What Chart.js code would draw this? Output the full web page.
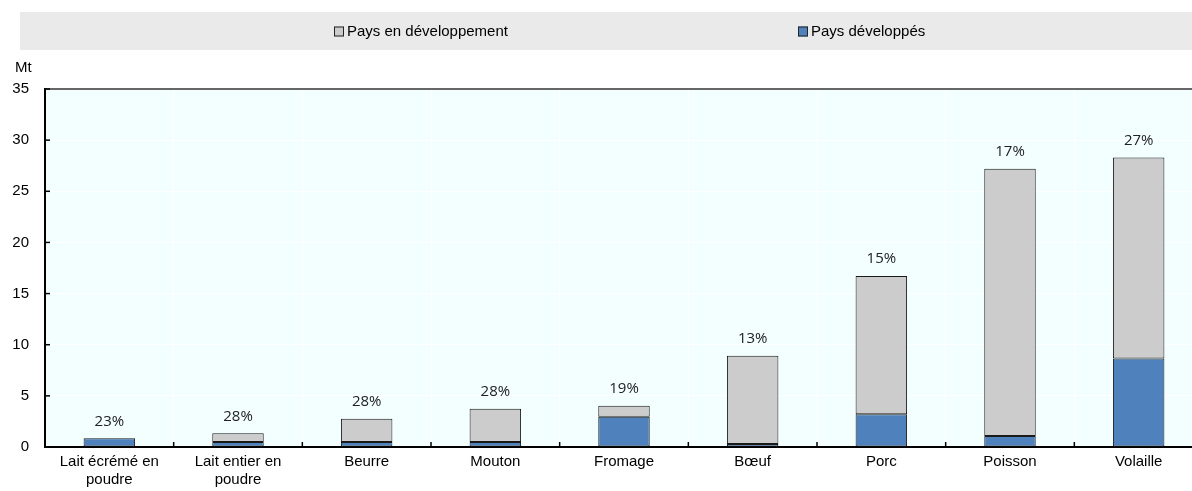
<!DOCTYPE html>
<html>
<head>
<meta charset="utf-8">
<script src="https://cdn.jsdelivr.net/npm/chart.js@4/dist/chart.umd.min.js"></script>
<style>
  html, body { margin: 0; padding: 0; background: #fff; overflow: hidden; }
  #wrap { width: 1205px; height: 491px; }
</style>
</head>
<body>
<div id="wrap"><canvas id="chart" width="1205" height="491"></canvas></div>
<script>
/* ===============================
   DATA
================================ */
const categories = [
  ["Lait écrémé en", "poudre"],
  ["Lait entier en", "poudre"],
  "Beurre",
  "Mouton",
  "Fromage",
  "Bœuf",
  "Porc",
  "Poisson",
  "Volaille"
];

// Mt
const developed = [0.85, 0.49, 0.49, 0.49, 2.96, 0.29, 3.19, 1.07, 8.66];
const developing = [0.0, 0.85, 2.27, 3.25, 1.07, 8.63, 13.54, 26.13, 19.64];

// share labels shown above each bar
const shareLabels = ["23%", "28%", "28%", "28%", "19%", "13%", "15%", "17%", "27%"];

const yTicks = [0, 5, 10, 15, 20, 25, 30, 35];

const FONT = "'Liberation Sans', Arial, sans-serif";

/* -------------------------------
   Plot background + legend band
-------------------------------- */
const backdrop = {
  id: "backdrop",
  beforeDraw(chart) {
    const { ctx, chartArea: a } = chart;
    ctx.save();
    // legend band
    ctx.fillStyle = "#EAEAEA";
    ctx.fillRect(20, 12, chart.width - 20, 38);
    // plot area
    ctx.fillStyle = "#F3FFFF";
    ctx.fillRect(a.left, a.top, a.right - a.left, a.bottom - a.top);
    ctx.restore();
  },
  afterDraw(chart) {
    const { ctx, chartArea: a } = chart;
    const x = chart.scales.x;
    const y = chart.scales.y;
    ctx.save();

    // top border of plot
    ctx.strokeStyle = "#333";
    ctx.lineWidth = 1.5;
    ctx.beginPath();
    ctx.moveTo(a.left, a.top);
    ctx.lineTo(a.right, a.top);
    ctx.stroke();

    // inward tick marks
    ctx.strokeStyle = "#000";
    ctx.lineWidth = 1.5;
    yTicks.forEach(v => {
      const py = y.getPixelForValue(v);
      ctx.beginPath();
      ctx.moveTo(a.left, py);
      ctx.lineTo(a.left + 5, py);
      ctx.stroke();
    });
    for (let i = 0; i < categories.length - 1; i++) {
      const px = (x.getPixelForValue(i) + x.getPixelForValue(i + 1)) / 2;
      ctx.beginPath();
      ctx.moveTo(px, a.bottom);
      ctx.lineTo(px, a.bottom - 5);
      ctx.stroke();
    }

    // unit
    ctx.fillStyle = "#000";
    ctx.font = "15px " + FONT;
    ctx.textAlign = "left";
    ctx.textBaseline = "middle";
    ctx.fillText("Mt", 15, 68);

    // share labels above bars
    ctx.font = "15px 'Open Sans', sans-serif";
    ctx.fillStyle = "#222";
    ctx.textAlign = "center";
    categories.forEach((c, i) => {
      const total = developed[i] + developing[i];
      const px = x.getPixelForValue(i);
      const py = y.getPixelForValue(total);
      ctx.fillText(shareLabels[i], px, py - 17);
    });

    // legend (developing first, as in the source)
    const items = [chart.data.datasets[1], chart.data.datasets[0]];
    const starts = [334, 798];
    ctx.font = "15px " + FONT;
    ctx.textAlign = "left";
    items.forEach((ds, k) => {
      const bx = starts[k];
      ctx.fillStyle = ds.backgroundColor;
      ctx.fillRect(bx, 26.5, 10, 10);
      ctx.strokeStyle = "#222";
      ctx.lineWidth = 1;
      ctx.strokeRect(bx + 0.5, 27, 9, 9);
      ctx.fillStyle = "#000";
      ctx.fillText(ds.label, bx + 13, 32);
    });

    ctx.restore();
  }
};

/* -------------------------------
   Chart
-------------------------------- */
new Chart(document.getElementById("chart"), {
  type: "bar",
  data: {
    labels: categories,
    datasets: [
      {
        label: "Pays développés",
        data: developed,
        backgroundColor: "#4F81BD",
        borderColor: "#1a1a1a",
        borderWidth: 1,
        borderSkipped: false
      },
      {
        label: "Pays en développement",
        data: developing,
        backgroundColor: "#CCCCCC",
        borderColor: "#1a1a1a",
        borderWidth: 1,
        borderSkipped: false
      }
    ]
  },
  options: {
    responsive: false,
    devicePixelRatio: 1,
    animation: false,
    layout: { padding: { top: 89, left: 12, right: 2, bottom: 2 } },
    datasets: { bar: { categoryPercentage: 0.8, barPercentage: 0.5 } },
    plugins: {
      legend: { display: false },
      tooltip: { enabled: false }
    },
    scales: {
      x: {
        stacked: true,
        grid: { color: "#fff", lineWidth: 1, offset: true, drawTicks: false },
        border: { color: "#000", width: 2 },
        // long first label must not push the plot to the right
        afterFit: scale => {
          scale.paddingLeft = 0;
          scale.paddingRight = 0;
          scale.height = 42;
        },
        ticks: {
          color: "#000",
          font: { family: FONT, size: 15 },
          padding: 6,
          maxRotation: 0,
          autoSkip: false
        }
      },
      y: {
        stacked: true,
        min: 0,
        max: 35,
        grid: { color: "#fff", lineWidth: 1, drawTicks: false },
        border: { color: "#000", width: 2 },
        afterBuildTicks: axis => {
          axis.ticks = yTicks.map(v => ({ value: v }));
        },
        afterFit: scale => {
          scale.width = 33;
        },
        ticks: {
          color: "#000",
          font: { family: FONT, size: 15 },
          padding: 16
        }
      }
    }
  },
  plugins: [backdrop]
});
</script>
</body>
</html>
